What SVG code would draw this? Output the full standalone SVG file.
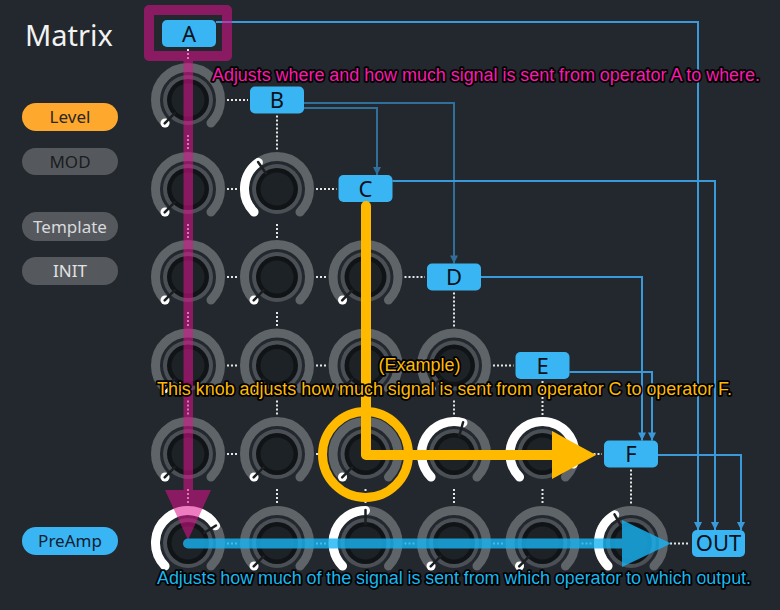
<svg xmlns="http://www.w3.org/2000/svg" xmlns:xlink="http://www.w3.org/1999/xlink" width="780" height="610" viewBox="0 0 780 610">
<style>
.arc{fill:none;stroke:#5f6469;stroke-width:9;stroke-linecap:round}
.val{fill:none;stroke:#ffffff;stroke-width:9;stroke-linecap:round}
.ind{stroke:#1b1f22;stroke-width:2.5;stroke-linecap:round}
.dot{fill:none;stroke:#e6e6e6;stroke-width:2;stroke-dasharray:2 2}
.wire{fill:none;stroke:#3a9ad9;stroke-width:2}
.dim{stroke:#2f6f99}
.box rect{fill:#3ab5f4}
.box text{font-family:'Noto Sans','Open Sans',sans-serif;font-size:22px;fill:#08121a;text-anchor:middle}
.pill text{font-family:'Noto Sans','Open Sans',sans-serif;font-size:17px;text-anchor:middle}
.note{font-family:'Liberation Sans',Arial,sans-serif;font-size:18px;stroke:#000;stroke-width:3.5;stroke-linejoin:round;paint-order:stroke}
</style>
<defs>
<g id="knob">
<path class="arc" d="M-22.98,22.98 A32.5,32.5 0 1 1 22.98,22.98"/>
<circle r="25" fill="#4a5055"/>
<circle r="21" fill="#111417"/>
<circle r="16.5" fill="#1d2226"/>
</g>
<g id="kmin">
<use xlink:href="#knob"/>
<circle cx="-22.98" cy="22.98" r="4.5" fill="#ffffff"/>
<line class="ind" x1="-23.33" y1="23.33" x2="-13.43" y2="13.43"/>
</g>
<marker id="ah" viewBox="0 0 10 10" refX="10" refY="5" markerWidth="9" markerHeight="8" markerUnits="userSpaceOnUse" orient="auto"><path d="M0,0 L10,5 L0,10 Z" fill="#3a9ad9"/></marker>
<marker id="ahd" viewBox="0 0 10 10" refX="10" refY="5" markerWidth="9" markerHeight="8" markerUnits="userSpaceOnUse" orient="auto"><path d="M0,0 L10,5 L0,10 Z" fill="#2f6f99"/></marker>
</defs>
<rect width="780" height="610" fill="#22282d"/>
<text x="25" y="46" font-family="'Noto Sans','Open Sans',sans-serif" font-size="29" fill="#f2f2f2">Matrix</text>

<g id="buttons" class="pill">
<g id="btn-level"><rect x="22" y="103" width="96" height="28" rx="14" fill="#ffa82e"/><text x="70" y="123" fill="#2b2620">Level</text></g>
<g id="btn-mod"><rect x="22" y="148" width="96" height="27" rx="13.5" fill="#55595d"/><text x="70" y="167.5" fill="#1a1d20">MOD</text></g>
<g id="btn-template"><rect x="22" y="212" width="96" height="29" rx="14.5" fill="#55595d"/><text x="70" y="232.5" fill="#d8dadc">Template</text></g>
<g id="btn-init"><rect x="22" y="257" width="96" height="28" rx="14" fill="#55595d"/><text x="70" y="277" fill="#e2e2e2">INIT</text></g>
<g id="btn-preamp"><rect x="22" y="527" width="96" height="28" rx="14" fill="#3ab5f4"/><text x="70" y="547" fill="#0f2030">PreAmp</text></g>
</g>

<g id="knobs">
<g id="knob-r1c1" transform="translate(188,100)"><use xlink:href="#kmin"/></g>
<g id="knob-r2c1" transform="translate(188,189)"><use xlink:href="#kmin"/></g>
<g id="knob-r2c2" transform="translate(277,189)"><use xlink:href="#knob"/><path class="val" d="M-22.98,22.98 A32.5,32.5 0 0 1 -18.64,-26.62"/><line class="ind" x1="-18.93" y1="-27.03" x2="-10.9" y2="-15.56"/></g>
<g id="knob-r3c1" transform="translate(188,277)"><use xlink:href="#kmin"/></g>
<g id="knob-r3c2" transform="translate(277,277)"><use xlink:href="#kmin"/></g>
<g id="knob-r3c3" transform="translate(365.5,277)"><use xlink:href="#kmin"/></g>
<g id="knob-r4c1" transform="translate(188,365.5)"><use xlink:href="#kmin"/></g>
<g id="knob-r4c2" transform="translate(277,365.5)"><use xlink:href="#kmin"/></g>
<g id="knob-r4c3" transform="translate(365.5,365.5)"><use xlink:href="#kmin"/></g>
<g id="knob-r4c4" transform="translate(454,365.5)"><use xlink:href="#kmin"/></g>
<g id="knob-r5c1" transform="translate(188,454)"><use xlink:href="#kmin"/></g>
<g id="knob-r5c2" transform="translate(277,454)"><use xlink:href="#kmin"/></g>
<g id="knob-r5c3" transform="translate(365.5,454)"><use xlink:href="#kmin"/></g>
<g id="knob-r5c4" transform="translate(454,454)"><use xlink:href="#knob"/><path class="val" d="M-22.98,22.98 A32.5,32.5 0 0 1 8.96,-31.24"/><line class="ind" x1="9.1" y1="-31.72" x2="5.24" y2="-18.26"/></g>
<g id="knob-r5c5" transform="translate(542.5,454)"><use xlink:href="#knob"/><path class="val" d="M-22.98,22.98 A32.5,32.5 0 1 1 30.91,10.04"/><line class="ind" x1="31.38" y1="10.2" x2="18.07" y2="5.87"/></g>
<g id="knob-r6c1" transform="translate(188,543)"><use xlink:href="#knob"/><path class="val" d="M-22.98,22.98 A32.5,32.5 0 1 1 27.56,-17.22"/><line class="ind" x1="27.98" y1="-17.49" x2="16.11" y2="-10.07"/></g>
<g id="knob-r6c2" transform="translate(277,543)"><use xlink:href="#kmin"/></g>
<g id="knob-r6c3" transform="translate(365.5,543)"><use xlink:href="#knob"/><path class="val" d="M-22.98,22.98 A32.5,32.5 0 0 1 0,-32.5"/><line class="ind" x1="0" y1="-33" x2="0" y2="-19"/></g>
<g id="knob-r6c4" transform="translate(454,543)"><use xlink:href="#kmin"/></g>
<g id="knob-r6c5" transform="translate(542.5,543)"><use xlink:href="#kmin"/></g>
<g id="knob-r6c6" transform="translate(631,543)"><use xlink:href="#knob"/><path class="val" d="M-22.98,22.98 A32.5,32.5 0 0 1 -16.25,-28.15"/><line class="ind" x1="-16.5" y1="-28.58" x2="-9.5" y2="-16.45"/></g>
</g>

<g id="connectors">
<path class="dot" d="M227,100H248 M227,189H239 M316,189H336.5 M227,277H239 M316,277H327.5 M404.5,277H425 M227,365.5H239 M316,365.5H327.5 M404.5,365.5H416 M493,365.5H513.5 M227,454H239 M316,454H327.5 M404.5,454H416 M493,454H504.5 M581.5,454H602 M227,543.5H239 M316,543.5H327.5 M404.5,543.5H416 M493,543.5H504.5 M581.5,543.5H593 M670,543.5H690"/>
<path class="dot" d="M188,49V61 M188,135V151 M188,224V239 M188,312V327.5 M188,400.5V416 M188,489V505 M277,115.5V151 M277,224V239 M277,312V327.5 M277,400.5V416 M277,489V505 M365.5,204V239 M365.5,312V327.5 M365.5,400.5V416 M365.5,489V505 M454,292.5V327.5 M454,400.5V416 M454,489V505 M542.5,381V416 M542.5,489V505 M631,469.5V505"/>
<path class="wire dim" d="M304,103H454V263.5" marker-end="url(#ahd)"/>
<path class="wire dim" d="M304,108H377V175" marker-end="url(#ahd)"/>
<path class="wire" d="M216,22H698V530" marker-end="url(#ah)" stroke="#3ca2e2"/>
<path class="wire" d="M392.5,181H715V530" marker-end="url(#ah)"/>
<path class="wire" d="M481,277H642V440.5" marker-end="url(#ah)"/>
<path class="wire" d="M569.5,372H652V440.5" marker-end="url(#ah)"/>
<path class="wire" d="M658,455H741V530" marker-end="url(#ah)"/>
</g>

<g id="nodes" class="box">
<g id="op-A"><rect x="162" y="20" width="54" height="27" rx="5"/><text x="189" y="41.5">A</text></g>
<g id="op-B"><rect x="250" y="86.5" width="54" height="27" rx="5"/><text x="277" y="108">B</text></g>
<g id="op-C"><rect x="338.5" y="175" width="54" height="27" rx="5"/><text x="365.5" y="196.5">C</text></g>
<g id="op-D"><rect x="427" y="263.5" width="54" height="27" rx="5"/><text x="454" y="285">D</text></g>
<g id="op-E"><rect x="515.5" y="352" width="54" height="27" rx="5"/><text x="542.5" y="373.5">E</text></g>
<g id="op-F"><rect x="604" y="440.5" width="54" height="27" rx="5"/><text x="631" y="462">F</text></g>
<g id="out"><rect x="692" y="530" width="53" height="27" rx="5"/><text x="718.5" y="550.5" font-size="19">OUT</text></g>
</g>

<g id="overlays">
<rect x="149" y="10" width="78" height="46" fill="none" stroke="#e0108e" stroke-opacity="0.55" stroke-width="10" stroke-linejoin="round"/>
<path d="M183.5,61H193V490H211L188,540L165,490H183.5Z" fill="#e0108e" fill-opacity="0.55"/>
<circle cx="365.5" cy="454.5" r="43" fill="none" stroke="#ffba00" stroke-width="9"/>
<path d="M366,206V455H554" fill="none" stroke="#ffba00" stroke-width="10" stroke-linecap="round" stroke-linejoin="round"/>
<path d="M552,431L596,455L552,479Z" fill="#ffba00"/>
<path d="M188,538.5H622V520L671,543.5L622,567V548.5H188A5,5 0 0 1 188,538.5Z" fill="#18b4f4" fill-opacity="0.8"/>
</g>

<g id="notes" class="note">
<text x="212" y="80.5" fill="#ff18b0" textLength="548" lengthAdjust="spacing">Adjusts where and how much signal is sent from operator A to where.</text>
<text x="378.5" y="370.5" fill="#ffba00">(Example)</text>
<text x="157" y="394.5" fill="#ffba00" textLength="575" lengthAdjust="spacing">This knob adjusts how much signal is sent from operator C to operator F.</text>
<text x="157" y="584" fill="#18b8f0" textLength="594" lengthAdjust="spacing">Adjusts how much of the signal is sent from which operator to which output.</text>
</g>
</svg>
